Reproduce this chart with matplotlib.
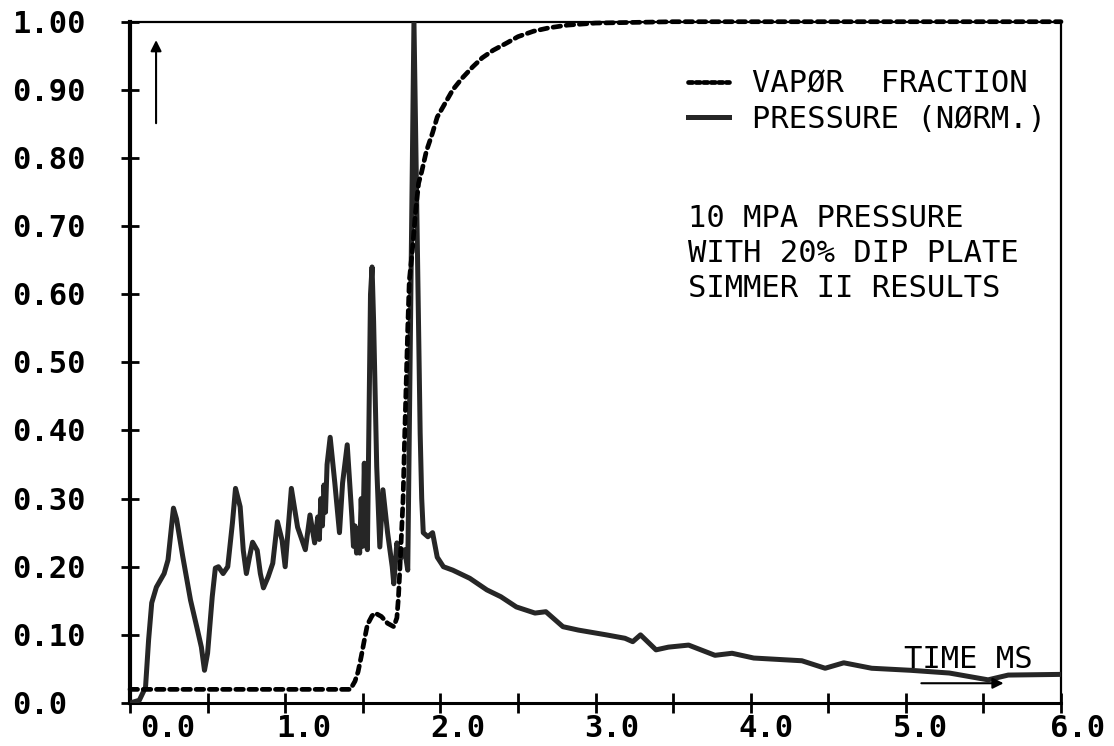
#!/usr/bin/env python3
"""
Vapor fraction and normalized pressure vs time, SIMMER II results
"""
import numpy as np
import matplotlib
matplotlib.use("Agg")
import matplotlib.pyplot as plt
import matplotlib.transforms as mtrans
from matplotlib.lines import Line2D

# time (ms) / normalized pressure
p_time = [0.00, 0.06, 0.10, 0.12, 0.14, 0.17, 0.22, 0.245, 0.28, 0.30,
          0.34, 0.39, 0.43, 0.46, 0.48, 0.50, 0.53, 0.55, 0.57, 0.60,
          0.63, 0.66, 0.68, 0.71, 0.73, 0.75, 0.77, 0.79, 0.82, 0.84,
          0.86, 0.89, 0.92, 0.95, 0.98, 1.00, 1.04, 1.08, 1.13, 1.16,
          1.19, 1.21, 1.22, 1.23, 1.24, 1.25, 1.26, 1.27, 1.29, 1.32,
          1.35, 1.37, 1.40, 1.43, 1.44, 1.45, 1.46, 1.47, 1.48, 1.49,
          1.50, 1.51, 1.52, 1.53, 1.55, 1.56, 1.57, 1.59, 1.61, 1.63,
          1.66, 1.69, 1.70, 1.72, 1.74, 1.77, 1.79, 1.81, 1.83, 1.85,
          1.87, 1.88, 1.89, 1.92, 1.95, 1.98, 2.02, 2.08, 2.19, 2.30,
          2.39, 2.49, 2.61, 2.68, 2.79, 2.89, 3.07, 3.19, 3.24, 3.29,
          3.39, 3.47, 3.60, 3.77, 3.88, 4.02, 4.33, 4.48, 4.60, 4.78,
          5.03, 5.28, 5.53, 5.66, 6.00]
pressure = [0.000, 0.004, 0.023, 0.093, 0.147, 0.170, 0.190, 0.210, 0.286, 0.270,
            0.215, 0.151, 0.112, 0.082, 0.048, 0.073, 0.156, 0.198, 0.200, 0.190,
            0.200, 0.264, 0.315, 0.288, 0.224, 0.190, 0.214, 0.236, 0.224, 0.190,
            0.169, 0.185, 0.205, 0.266, 0.239, 0.200, 0.315, 0.258, 0.225, 0.276,
            0.235, 0.273, 0.240, 0.300, 0.260, 0.320, 0.280, 0.350, 0.390, 0.323,
            0.250, 0.323, 0.379, 0.273, 0.230, 0.260, 0.220, 0.250, 0.220, 0.300,
            0.230, 0.352, 0.240, 0.225, 0.600, 0.640, 0.560, 0.347, 0.229, 0.313,
            0.250, 0.200, 0.175, 0.235, 0.210, 0.225, 0.195, 0.600, 1.000, 0.700,
            0.396, 0.300, 0.250, 0.244, 0.250, 0.214, 0.200, 0.195, 0.183, 0.166,
            0.156, 0.141, 0.132, 0.134, 0.112, 0.107, 0.100, 0.095, 0.090, 0.100,
            0.078, 0.082, 0.085, 0.070, 0.073, 0.066, 0.062, 0.051, 0.059, 0.051,
            0.048, 0.044, 0.034, 0.041, 0.042]

# time (ms) / vapor fraction
v_time = [0.00, 1.42, 1.45, 1.47, 1.49, 1.51, 1.53, 1.56, 1.58, 1.62,
          1.66, 1.70, 1.72, 1.73, 1.74, 1.75, 1.76, 1.77, 1.78, 1.79,
          1.80, 1.82, 1.84, 1.86, 1.88, 1.91, 1.95, 1.98, 2.03, 2.08,
          2.14, 2.21, 2.27, 2.34, 2.43, 2.50, 2.60, 2.70, 2.82, 3.00,
          3.50, 6.00]
vapor = [0.020, 0.020, 0.032, 0.046, 0.068, 0.092, 0.115, 0.128, 0.132, 0.127,
         0.117, 0.112, 0.125, 0.155, 0.200, 0.250, 0.300, 0.390, 0.470, 0.550,
         0.620, 0.665, 0.720, 0.763, 0.780, 0.810, 0.837, 0.860, 0.880, 0.900,
         0.917, 0.934, 0.947, 0.958, 0.969, 0.978, 0.986, 0.991, 0.995, 0.998,
         1.000, 1.000]

xtick_vals = [0.0, 1.0, 2.0, 3.0, 4.0, 5.0, 6.0]
xtick_labels = ["0.0", "1.0", "2.0", "3.0", "4.0", "5.0", "6.0"]
ytick_vals = [1.0, 0.9, 0.8, 0.7, 0.6, 0.5, 0.4, 0.3, 0.2, 0.1, 0.0]
ytick_labels = ["1.00", "0.90", "0.80", "0.70", "0.60", "0.50",
                "0.40", "0.30", "0.20", "0.10", "0.0"]

legend_labels = ["VAPØR  FRACTION", "PRESSURE (NØRM.)"]
note = "10 MPA PRESSURE\nWITH 20% DIP PLATE\nSIMMER II RESULTS"

MONO = "DejaVu Sans Mono"
FS = 22.0

W, H = 1114, 746
fig = plt.figure(figsize=(W / 100, H / 100), dpi=100)
ax = fig.add_axes([130 / W, 1 - 703 / H, (1061 - 130) / W, (703 - 21.7) / H])

ax.plot(p_time, pressure, color="#262626", lw=3.6, solid_joinstyle="round", zorder=3)
ax.plot(v_time, vapor, color="black", lw=3.4, linestyle=(0, (1.6, 1.2)),
        dash_capstyle="round", clip_on=False, zorder=4)

ax.set_xlim(0, 6)
ax.set_ylim(0, 1)

ax.spines["left"].set_linewidth(3.0)
ax.spines["bottom"].set_linewidth(2.2)
ax.spines["top"].set_linewidth(1.6)
ax.spines["right"].set_linewidth(1.6)

ax.set_xticks(np.arange(0, 6.01, 0.5))
ax.set_yticks(np.arange(0, 1.01, 0.1))
ax.tick_params(axis="x", direction="inout", length=14, width=2.0,
               labelbottom=False)
ax.tick_params(axis="y", direction="inout", length=13, width=2.0,
               labelleft=False)

# tick labels sit a little to the right of the ticks on the original
xshift_px = [38, 19, 17, 16, 15, 15, 17]
xlab_tr = mtrans.blended_transform_factory(ax.transData, fig.transFigure)
for v, lab, dx in zip(xtick_vals, xtick_labels, xshift_px):
    ax.text(v, 9 / H, lab, transform=xlab_tr + mtrans.ScaledTranslation(dx / 100, 0, fig.dpi_scale_trans),
            ha="center", va="baseline", family=MONO, weight="bold",
            fontsize=FS, clip_on=False)

ylab_tr = mtrans.blended_transform_factory(fig.transFigure, ax.transData)
for v, lab in zip(ytick_vals, ytick_labels):
    ax.text(12 / W, v, lab, transform=ylab_tr + mtrans.ScaledTranslation(0, -0.11, fig.dpi_scale_trans),
            ha="left", va="baseline", family=MONO, weight="bold",
            fontsize=FS, clip_on=False)

handles = [Line2D([], [], color="black", lw=3.4, linestyle=(0, (0.9, 0.7)),
                  dash_capstyle="round"),
           Line2D([], [], color="#262626", lw=3.6)]
ax.legend(handles, legend_labels, loc="upper left",
          bbox_to_anchor=(0.599, 0.930), frameon=False,
          prop={"family": MONO, "size": FS}, handlelength=1.36,
          handletextpad=0.76, borderpad=0, borderaxespad=0, labelspacing=0.2)

ax.text(0.599, 0.733, note, transform=ax.transAxes, ha="left", va="top",
        family=MONO, fontsize=FS, linespacing=1.27)

ax.text(4.99, 0.051, "TIME MS", ha="left", va="baseline",
        family=MONO, fontsize=FS, zorder=5)
ax.annotate("", xy=(5.63, 0.029), xytext=(5.1, 0.029),
            arrowprops=dict(arrowstyle="-|>", lw=1.5, color="black",
                            mutation_scale=16, shrinkA=0, shrinkB=0))
ax.annotate("", xy=(0.168, 0.973), xytext=(0.168, 0.851),
            arrowprops=dict(arrowstyle="-|>", lw=1.5, color="black",
                            mutation_scale=16, shrinkA=0, shrinkB=0))

fig.savefig("out.png", dpi=100, facecolor="white")
plt.close(fig)
print("Saved: out.png")
